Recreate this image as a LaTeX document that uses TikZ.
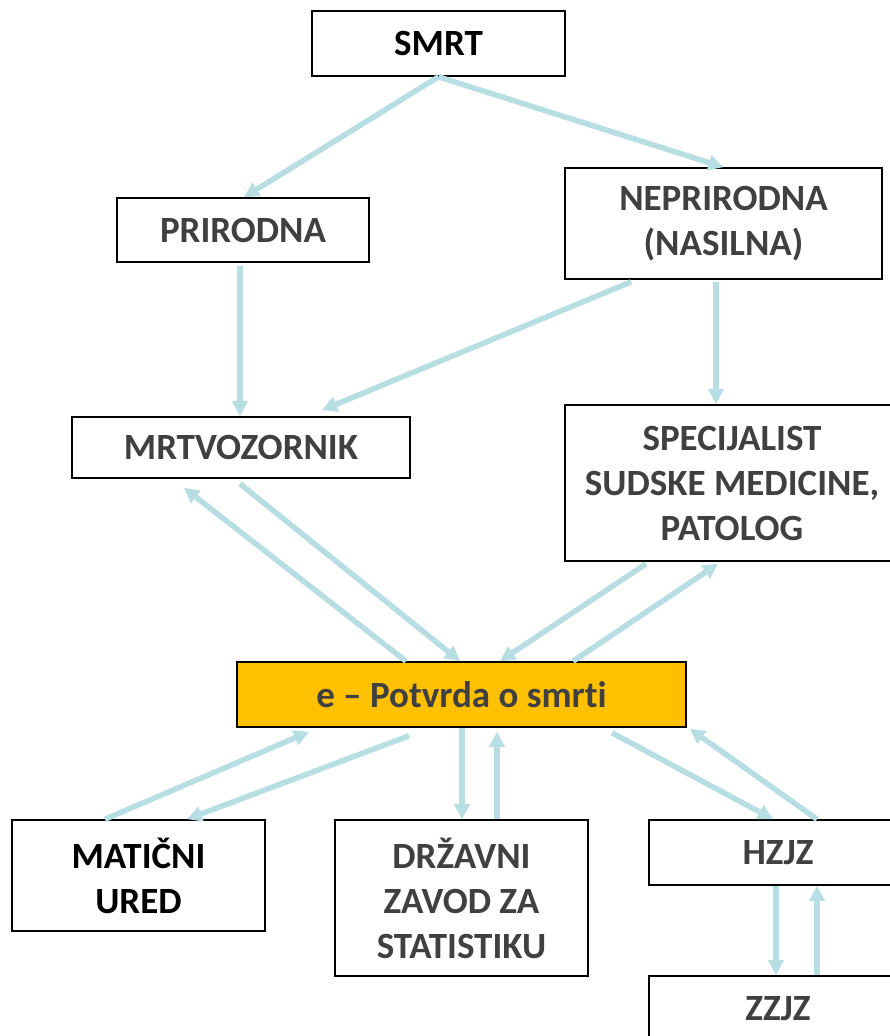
\documentclass[tikz,border=0pt]{standalone}
\usepackage{fontspec}
\setmainfont{Carlito}[Ligatures=NoCommon]
\usetikzlibrary{arrows.meta}
\definecolor{arrowblue}{RGB}{183,222,227}
\definecolor{txtgray}{RGB}{64,64,64}
\definecolor{gold}{RGB}{255,192,0}
\begin{document}
\begin{tikzpicture}[x=1pt,y=-1pt,
  box/.style={draw=black,line width=1.6pt,fill=white,rectangle,inner sep=0pt,align=center,
    font=\fontsize{37}{45}\selectfont\bfseries,text=txtgray},
  flow/.style={draw=arrowblue,line width=5.5pt,-{Triangle[length=15pt,width=15pt]}}]
\useasboundingbox (0,0) rectangle (890,1036);
\clip (0,0) rectangle (890,1036);
\fill[white] (0,0) rectangle (890,1036);
% boxes
\node[box,text=black,minimum width=253pt,minimum height=65pt] (smrt) at (438.5,43.5) {SMRT};
\node[box,minimum width=252pt,minimum height=64pt] (prir) at (243,230) {PRIRODNA};
\node[box,minimum width=317pt,minimum height=111pt] (nepr) at (723.5,223.5) {NEPRIRODNA\\(NASILNA)};
\node[box,minimum width=338pt,minimum height=61pt] (mrtv) at (241,447.5) {MRTVOZORNIK};
\node[box,minimum width=334pt,minimum height=156pt] (spec) at (732,483) {SPECIJALIST\\SUDSKE MEDICINE,\\PATOLOG};
\node[box,fill=gold,minimum width=449pt,minimum height=65pt] (epot) at (461.5,694.5) {e -- Potvrda o smrti};
\node[box,text=black,minimum width=253pt,minimum height=111pt] (mat) at (138.5,875.5) {MATIČNI\\URED};
\node[box,minimum width=253pt,minimum height=156pt] (drz) at (461.5,898) {DRŽAVNI\\ZAVOD ZA\\STATISTIKU};
\node[box,minimum width=258pt,minimum height=65pt] (hzjz) at (778,852.5) {HZJZ};
\node[box,minimum width=258pt,minimum height=65pt] (zzjz) at (778,1008.5) {ZZJZ};
% connectors
\draw[flow] (smrt.south) -- ([xshift=1pt]prir.north);
\draw[flow] (smrt.south) -- (nepr.north);
\draw[flow] ([xshift=-3pt,yshift=-3pt]prir.south) -- ([xshift=-1pt]mrtv.north);
\draw[flow] ([xshift=67pt,yshift=-2pt]nepr.south west) -- ([xshift=81pt,yshift=6pt]mrtv.north);
\draw[flow] ([xshift=-7.5pt,yshift=-2pt]nepr.south) -- ([xshift=-16pt]spec.north);
\draw[flow] ([xshift=-55.5pt]epot.north) -- ([xshift=-57pt,yshift=-9pt]mrtv.south);
\draw[flow] ([xshift=-1pt,yshift=-5pt]mrtv.south) -- ([xshift=-1.5pt]epot.north);
\draw[flow] ([xshift=-86pt,yshift=-2pt]spec.south) -- ([xshift=38.5pt]epot.north);
\draw[flow] ([xshift=111.5pt]epot.north) -- ([xshift=-14pt,yshift=-2pt]spec.south);
\draw[flow] ([xshift=-52.5pt,yshift=-8pt]epot.south) -- ([xshift=48.5pt]mat.north);
\draw[flow] ([xshift=-33.5pt]mat.north) -- ([xshift=-152.5pt,yshift=-4pt]epot.south);
\draw[flow] ([xshift=0.5pt]epot.south) -- ([xshift=0.5pt]drz.north);
\draw[flow] ([xshift=35.5pt]drz.north) -- ([xshift=35.5pt,yshift=-4pt]epot.south);
\draw[flow] ([xshift=150.5pt,yshift=-5pt]epot.south) -- ([xshift=-5pt]hzjz.north);
\draw[flow] ([xshift=39pt]hzjz.north) -- ([xshift=3pt,yshift=-1pt]epot.south east);
\draw[flow] ([xshift=-2pt]hzjz.south) -- ([xshift=-2pt]zzjz.north);
\draw[flow] ([xshift=39pt]zzjz.north) -- ([xshift=39pt]hzjz.south);
\end{tikzpicture}
\end{document}
